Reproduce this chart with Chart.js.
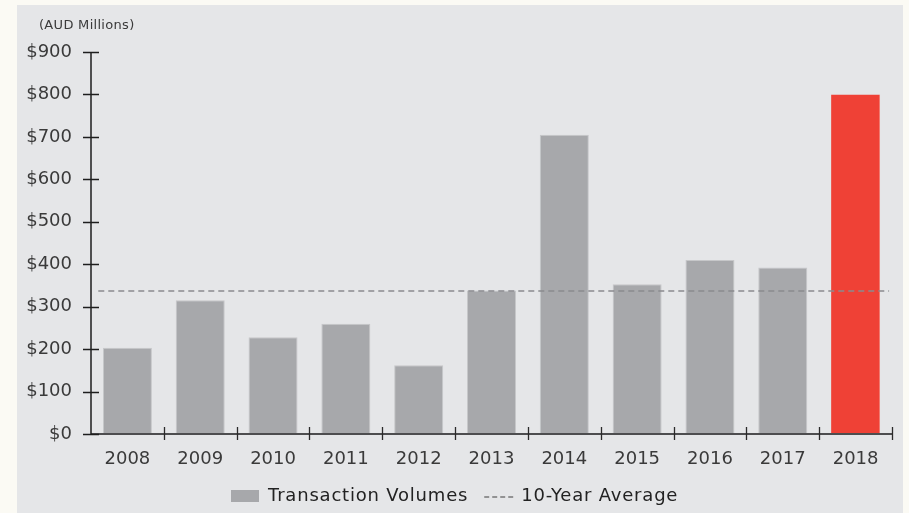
<!DOCTYPE html>
<html>
<head>
<meta charset="utf-8">
<title>Transaction Volumes</title>
<script src="https://cdn.jsdelivr.net/npm/chart.js@4.4.0/dist/chart.umd.min.js"></script>
<style>
  html, body { margin: 0; padding: 0; background: #fbfaf4; }
  canvas { display: block; }
</style>
</head>
<body>
<canvas id="chart" width="909" height="513"></canvas>
<script>
// ---- data ----
const years = ['2008', '2009', '2010', '2011', '2012', '2013', '2014', '2015', '2016', '2017', '2018'];
const volumes = [203, 315, 228, 260, 162, 338, 705, 353, 410, 392, 800];
const tenYearAverage = 337;
const yTickValues = [0, 100, 200, 300, 400, 500, 600, 700, 800, 900];
const unitLabel = '(AUD Millions)';
const legendLabels = ['Transaction Volumes', '10-Year Average'];

// ---- styles ----
const FONT = "'DejaVu Sans', sans-serif";
const PANEL = '#e5e6e8';
const GREY_BAR = '#a7a8ab';
const RED_BAR = '#ef4136';
const TEXT = '#3a3a3a';
const AVG_LINE = '#8a8b8e';

const lastIndex = volumes.length - 1;

// Panel background, hand-drawn axes with crossing ticks, unit label and legend
const framePlugin = {
  id: 'frame',
  beforeDraw(chart) {
    const { ctx } = chart;
    ctx.save();
    ctx.fillStyle = PANEL;
    ctx.fillRect(17, 5, 886, 508);
    ctx.restore();
  },
  afterDatasetsDraw(chart) {
    const { ctx, chartArea } = chart;
    const xs = chart.scales.x;
    const ys = chart.scales.y;
    const y0 = ys.getPixelForValue(0);
    const yTop = ys.getPixelForValue(yTickValues[yTickValues.length - 1]);
    ctx.save();
    // x axis line and category boundary ticks
    ctx.strokeStyle = '#4d4d4f';
    ctx.lineWidth = 2;
    ctx.beginPath();
    ctx.moveTo(chartArea.left, y0);
    ctx.lineTo(chartArea.right, y0);
    ctx.stroke();
    ctx.strokeStyle = '#2a2a2a';
    ctx.lineWidth = 1.3;
    ctx.beginPath();
    for (let i = 0; i < years.length; i++) {
      const bx = Math.round(xs.getPixelForValue(i + 0.5)) + 0.5;
      ctx.moveTo(bx, y0 - 7);
      ctx.lineTo(bx, y0 + 6);
    }
    ctx.stroke();
    // y axis line and value ticks
    ctx.strokeStyle = '#1e1e1e';
    ctx.lineWidth = 1.5;
    ctx.beginPath();
    ctx.moveTo(chartArea.left, yTop);
    ctx.lineTo(chartArea.left, y0);
    yTickValues.forEach(v => {
      const py = Math.round(ys.getPixelForValue(v)) + 0.5;
      ctx.moveTo(chartArea.left - 8, py);
      ctx.lineTo(chartArea.left + 8, py);
    });
    ctx.stroke();
    ctx.restore();
  },
  afterDraw(chart) {
    const { ctx } = chart;
    ctx.save();
    // unit caption above the value axis
    ctx.fillStyle = TEXT;
    ctx.font = '13px ' + FONT;
    ctx.letterSpacing = '0.3px';
    ctx.textBaseline = 'middle';
    ctx.textAlign = 'left';
    ctx.fillText(unitLabel, 39, 26);

    // legend, centred under the plot
    ctx.font = '18px ' + FONT;
    ctx.letterSpacing = '0.8px';
    const boxW = 28, boxH = 12, gap1 = 9, gap2 = 16, dashW = 30, gap3 = 7;
    const w1 = ctx.measureText(legendLabels[0]).width;
    const w2 = ctx.measureText(legendLabels[1]).width;
    const total = boxW + gap1 + w1 + gap2 + dashW + gap3 + w2;
    let lx = Math.round((chart.width - total) / 2);
    const ly = 496;
    ctx.fillStyle = GREY_BAR;
    ctx.fillRect(lx, ly - 6, boxW, boxH);
    lx += boxW + gap1;
    ctx.fillStyle = '#222';
    ctx.fillText(legendLabels[0], lx, ly);
    lx += w1 + gap2;
    ctx.strokeStyle = '#777';
    ctx.lineWidth = 1.3;
    ctx.setLineDash([5, 3]);
    ctx.beginPath();
    ctx.moveTo(lx, ly + 1);
    ctx.lineTo(lx + dashW, ly + 1);
    ctx.stroke();
    ctx.setLineDash([]);
    lx += dashW + gap3;
    ctx.fillText(legendLabels[1], lx, ly);
    ctx.restore();
  }
};

new Chart(document.getElementById('chart'), {
  data: {
    labels: years,
    datasets: [
      {
        type: 'line',
        label: legendLabels[1],
        xAxisID: 'xLine',
        data: [{ x: 0.1, y: tenYearAverage }, { x: years.length - 0.04, y: tenYearAverage }],
        borderColor: AVG_LINE,
        borderWidth: 1.6,
        borderDash: [6, 4],
        pointRadius: 0,
        fill: false,
        order: 0
      },
      {
        type: 'bar',
        label: legendLabels[0],
        data: volumes,
        backgroundColor: ctx => ctx.dataIndex === lastIndex ? RED_BAR : GREY_BAR,
        borderColor: ctx => ctx.dataIndex === lastIndex ? '#f2786e' : '#c6c7c9',
        borderWidth: ctx => ctx.dataIndex === lastIndex
          ? { top: 0, left: 0, right: 1, bottom: 0 }
          : { top: 1, left: 1, right: 1, bottom: 0 },
        borderSkipped: false,
        grouped: false,
        categoryPercentage: 1,
        barPercentage: 0.673,
        order: 1
      }
    ]
  },
  options: {
    responsive: false,
    animation: false,
    layout: { padding: { top: 52, right: 17, bottom: 0, left: 0 } },
    plugins: {
      legend: { display: false },
      tooltip: { enabled: false }
    },
    scales: {
      x: {
        type: 'category',
        offset: true,
        grid: { display: false, drawTicks: false },
        border: { display: false },
        ticks: {
          color: TEXT,
          font: { family: FONT, size: 18 },
          padding: 15,
          maxRotation: 0
        },
        afterFit(scale) { scale.height = 79; }
      },
      xLine: {
        type: 'linear',
        display: false,
        min: 0,
        max: years.length
      },
      y: {
        type: 'linear',
        min: 0,
        max: 900,
        afterBuildTicks(scale) { scale.ticks = yTickValues.map(v => ({ value: v })); },
        grid: { display: false, drawTicks: false },
        border: { display: false },
        ticks: {
          color: TEXT,
          font: { family: FONT, size: 18 },
          padding: 19,
          callback: v => '$' + v
        },
        afterFit(scale) { scale.width = 91; }
      }
    }
  },
  plugins: [framePlugin]
});
</script>
</body>
</html>
